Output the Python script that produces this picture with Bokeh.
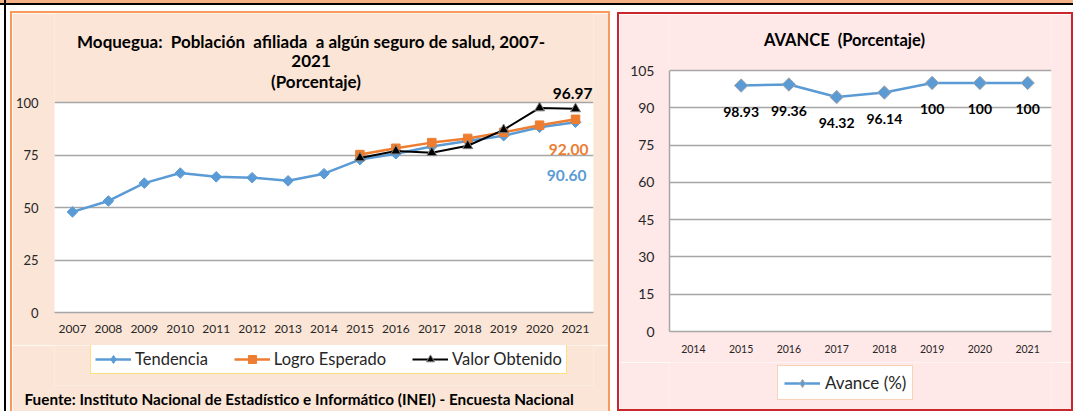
import numpy as np
from bokeh.plotting import figure
from bokeh.models import (Range1d, FixedTicker, Label, LabelSet, ColumnDataSource,
                          Legend, LegendItem, Title)
from bokeh.layouts import row, column
from bokeh.core.properties import value
from bokeh.embed import file_html
from bokeh.resources import INLINE

# ---------------- data ----------------
years = [2007, 2008, 2009, 2010, 2011, 2012, 2013, 2014,
         2015, 2016, 2017, 2018, 2019, 2020, 2021]
tendencia = [47.9, 53.1, 61.6, 66.4, 64.6, 64.2, 62.7, 66.1,
             72.8, 75.6, 79.0, 81.7, 84.2, 88.2, 90.6]
meta_years = [2015, 2016, 2017, 2018, 2019, 2020, 2021]
logro_esperado = [75.2, 78.2, 80.9, 82.9, 85.8, 89.2, 92.0]
valor_obtenido = [73.6, 76.9, 76.1, 79.4, 87.0, 97.4, 96.97]

avance_axis_years = [2014, 2015, 2016, 2017, 2018, 2019, 2020, 2021]
avance_years = [2015, 2016, 2017, 2018, 2019, 2020, 2021]
avance = [98.93, 99.36, 94.32, 96.14, 100, 100, 100]

left_ticks = [0, 25, 50, 75, 100]
right_ticks = [0, 15, 30, 45, 60, 75, 90, 105]

# ---------------- style ----------------
FONT = "Lato"
PEACH = "#FBE5D6"
PINK = "#FFE8E8"
BLUE = "#5B9BD5"
ORANGE = "#ED7D31"
GRID = "#A6A6A6"
TXT = "#262626"
NB = "\u00a0 "   # double space as in the original titles

# page-pixel -> data helpers for the two charts
def LX(px):
    return 2006.5 + (px - 53) / 36.0

def LY(py):
    return (312 - py) / 2.1

def RX(px):
    return 2013.5 + (px - 669) / 47.75

def RY(py):
    return (331 - py) * 105.0 / 261.0


def style_axes(p, xticks, yticks, xsize, ysize, ystand, xstand, yaxis_line, ymax):
    p.xaxis.ticker = FixedTicker(ticks=xticks)
    p.yaxis.ticker = FixedTicker(ticks=yticks)
    for ax in (p.xaxis[0], p.yaxis[0]):
        ax.major_tick_line_color = None
        ax.minor_tick_line_color = None
        ax.major_tick_out = 0
        ax.major_tick_in = 0
        ax.major_label_text_font = FONT
        ax.major_label_text_color = TXT
    p.xaxis.axis_line_color = GRID
    p.xaxis.axis_line_width = 1.5
    p.yaxis.axis_line_color = GRID if yaxis_line else None
    p.yaxis.axis_line_width = 1.5
    p.yaxis.bounds = (0, ymax)
    p.xaxis.major_label_text_font_size = xsize
    p.yaxis.major_label_text_font_size = ysize
    p.xaxis.major_label_standoff = xstand
    p.yaxis.major_label_standoff = ystand
    p.xgrid.grid_line_color = None
    p.ygrid.grid_line_color = GRID
    p.ygrid.grid_line_width = 1.3
    p.ygrid.ticker = FixedTicker(ticks=yticks)


def label(p, x, y, text, size, color="black", align="center", bold=True):
    p.add_layout(Label(x=x, y=y, text=text, text_font=FONT, text_font_size=size,
                       text_color=color, text_align=align, text_baseline="middle",
                       text_font_style="bold" if bold else "normal"))


def strip_fig(w, h, fill, left, right, bottom):
    f = figure(width=w, height=h, x_range=Range1d(0, 1), y_range=Range1d(0, 1),
               output_backend="svg", toolbar_location=None,
               x_axis_location=None, y_axis_location=None,
               min_border_left=left, min_border_right=right,
               min_border_top=0, min_border_bottom=bottom,
               border_fill_color=fill, background_fill_color=fill, outline_line_color=None)
    f.grid.grid_line_color = None
    return f


# ================= left chart =================
p1 = figure(width=596, height=332,
            x_range=Range1d(2006.5, 2021.5), y_range=Range1d(0, LY(13)),
            output_backend="svg", toolbar_location=None,
            min_border_left=41, min_border_right=15, min_border_top=0, min_border_bottom=33,
            border_fill_color=PEACH, background_fill_color=PEACH, outline_line_color=None)
style_axes(p1, years, left_ticks, "12px", "13px", 16, 12, False, 100)

# white plot area
p1.quad(left=[2006.5], right=[2021.5], bottom=[0], top=[100],
        fill_color="white", line_color=None, level="image")

p1.line(years, tendencia, line_color=BLUE, line_width=2.5)
p1.scatter(years, tendencia, marker="square", angle=np.pi / 4, size=7.5,
           fill_color=BLUE, line_color=BLUE)
p1.line(meta_years, logro_esperado, line_color=ORANGE, line_width=2.5)
p1.scatter(meta_years, logro_esperado, marker="square", size=8.5,
           fill_color=ORANGE, line_color=ORANGE)
p1.line(meta_years, valor_obtenido, line_color="black", line_width=2)
p1.scatter(meta_years, valor_obtenido, marker="triangle", size=10,
           fill_color="black", line_color="#7F7F7F", line_width=1)

label(p1, LX(592), LY(92.7), f"{valor_obtenido[-1]:.2f}", "15.5px", "black", "right")
label(p1, LX(588), LY(149.3), f"{logro_esperado[-1]:.2f}", "15.5px", ORANGE, "right")
label(p1, LX(586), LY(175), f"{tendencia[-1]:.2f}", "15.5px", BLUE, "right")

label(p1, LX(310), LY(40.7),
      "Moquegua:" + NB + "Población" + NB + "afiliada" + NB + "a algún seguro de salud, 2007-", "17px")
label(p1, LX(310), LY(60.5), "2021", "17px")
label(p1, LX(315), LY(81), "(Porcentaje)", "17px")

# legend + source strip (page y 345..411); frame aligned with p1 (x 53..593, y 345..385)
p1b = strip_fig(596, 66, PEACH, 41, 15, 26)
k1 = [p1b.line(years, tendencia, line_color=BLUE, line_width=2.5),
      p1b.scatter(years, tendencia, marker="diamond", size=12,
                  fill_color=BLUE, line_color=BLUE)]
k2 = [p1b.line(meta_years, logro_esperado, line_color=ORANGE, line_width=2.5),
      p1b.scatter(meta_years, logro_esperado, marker="square", size=8.5,
                  fill_color=ORANGE, line_color=ORANGE)]
k3 = [p1b.line(meta_years, valor_obtenido, line_color="black", line_width=2),
      p1b.scatter(meta_years, valor_obtenido, marker="triangle", size=10,
                  fill_color="black", line_color="#7F7F7F")]
leg1 = Legend(items=[LegendItem(label="Tendencia", renderers=k1),
                     LegendItem(label="Logro Esperado", renderers=k2),
                     LegendItem(label="Valor Obtenido", renderers=k3)],
              location=(36, 385 - 374.3), orientation="horizontal",
              border_line_color="#FFC000", border_line_width=1.8,
              background_fill_color="white", background_fill_alpha=1,
              padding=4, margin=0,
              glyph_width=36, glyph_height=20, label_height=20, label_standoff=4, spacing=26,
              label_text_font=FONT, label_text_font_size="16.5px", label_text_color=TXT)
p1b.add_layout(leg1)
p1b.add_layout(Title(text="Fuente: Instituto Nacional de Estadístico e Informático (INEI) - Encuesta Nacional",
                     align="left", offset=-30, standoff=5, text_font=FONT, text_font_size="15.3px",
                     text_font_style="bold", text_color="black"), "below")

left_panel = column(p1, p1b, margin=(11, 0, 0, 10),
                    styles={"border-top": "2px solid #F79A5B", "border-left": "2px solid #F79A5B",
                            "border-right": "2px solid #F79A5B"})

# ================= right chart =================
p2 = figure(width=452, height=348,
            x_range=Range1d(2013.5, 2021.5), y_range=Range1d(0, RY(14)),
            output_backend="svg", toolbar_location=None,
            min_border_left=50, min_border_right=20, min_border_top=0, min_border_bottom=31,
            border_fill_color=PINK, background_fill_color=PINK, outline_line_color=None)
style_axes(p2, avance_axis_years, right_ticks, "10.5px", "14px", 15, 13, True, 105)

p2.quad(left=[2013.5], right=[2021.5], bottom=[0], top=[105],
        fill_color="white", line_color=None, level="image")

p2.line(avance_years, avance, line_color=BLUE, line_width=2.5)
p2.scatter(avance_years, avance, marker="square", angle=np.pi / 4, size=9.5,
           fill_color=BLUE, line_color="#A5A5A5", line_width=1)

src = ColumnDataSource(dict(x=avance_years, y=avance, t=[f"{v:g}" for v in avance]))
p2.add_layout(LabelSet(x="x", y="y", text="t", source=src, y_offset=-26,
                       text_font=value(FONT), text_font_size=value("14px"),
                       text_font_style="bold", text_color="black",
                       text_align="center", text_baseline="middle"))

label(p2, RX(844), RY(39.3), "AVANCE" + NB + "(Porcentaje)", "16.5px")

# legend strip (page y 362..409); frame aligned with p2 (x 669..1051)
p2b = strip_fig(452, 47, PINK, 50, 20, 0)
ka = [p2b.line(avance_years, avance, line_color=BLUE, line_width=2.5),
      p2b.scatter(avance_years, avance, marker="diamond", size=14,
                  fill_color=BLUE, line_color="#A5A5A5", line_width=1)]
leg2 = Legend(items=[LegendItem(label="Avance (%)", renderers=ka)],
              location=(108, 409 - 400), orientation="horizontal",
              border_line_color="#F4A46E", border_line_width=1.8,
              background_fill_color="white", background_fill_alpha=1,
              padding=6, margin=0,
              glyph_width=36, glyph_height=20, label_height=20, label_standoff=5,
              label_text_font=FONT, label_text_font_size="17px", label_text_color=TXT)
p2b.add_layout(leg2)

right_panel = column(p2, p2b, margin=(12, 0, 0, 7),
                     styles={"border": "2px solid #C8282D"})

layout = row(left_panel, right_panel, styles={
    "background": "linear-gradient(to right, transparent 4px, #000 4px, #000 6px, transparent 6px),"
                  " linear-gradient(to bottom, #F4B183 0px, #F4B183 3px, #000 3px, #000 5px, transparent 5px)"})
open("out.html", "w").write(file_html(layout, INLINE, title="Moquegua"))
